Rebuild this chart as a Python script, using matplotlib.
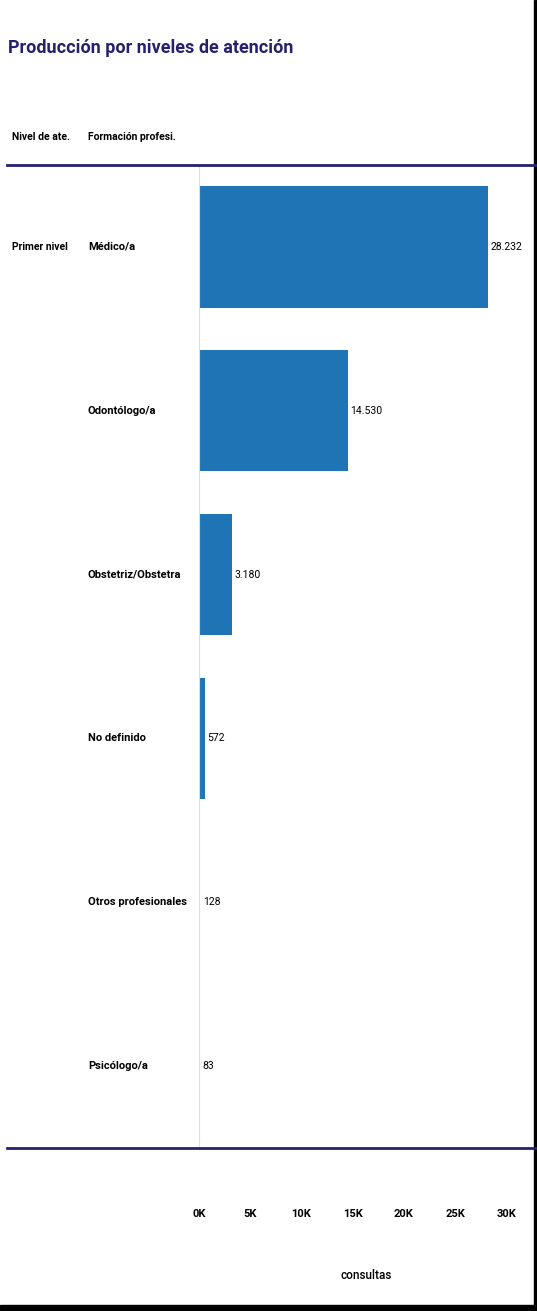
import matplotlib.pyplot as plt
from matplotlib.lines import Line2D
from matplotlib.patches import Rectangle
from matplotlib.ticker import FuncFormatter

plt.rcParams['font.family'] = ['Roboto', 'DejaVu Sans']

nivel = 'Primer nivel'
profesiones = ['Médico/a', 'Odontólogo/a', 'Obstetriz/Obstetra', 'No definido',
               'Otros profesionales', 'Psicólogo/a']
consultas = [28232, 14530, 3180, 572, 128, 83]
ticks = [0, 5000, 10000, 15000, 20000, 25000, 30000]

W, H = 537, 1311
navy = '#25216e'
azul = '#1f74b6'


def fx(px):
    return px / W


def fy(py):
    return 1 - py / H


def miles(v):
    return f'{v:,.0f}'.replace(',', '.')


fig = plt.figure(figsize=(W / 100, H / 100), dpi=100)

# zona de barras
ax = fig.add_axes([fx(199), fy(1148), fx(533) - fx(199), fy(165) - fy(1148)])
y = list(range(len(profesiones)))
ax.barh(y, consultas, height=0.74, color=azul)
ax.set_ylim(len(profesiones) - 0.5, -0.5)
ax.set_xlim(0, 32600)
ax.axvline(0, color='#dddddd', lw=0.8)
for s in ax.spines.values():
    s.set_visible(False)
ax.set_yticks([])
ax.set_xticks(ticks)
ax.xaxis.set_major_formatter(FuncFormatter(lambda v, p: f'{v / 1000:.0f}K'))
ax.tick_params(axis='x', length=0, labelsize=8, pad=44)
for lab in ax.get_xticklabels():
    lab.set_fontweight('bold')
ax.set_xlabel('consultas', fontsize=8.5, fontweight='medium', labelpad=36)

for yi, v in zip(y, consultas):
    ax.text(v + 250, yi, miles(v), va='center', ha='left', fontsize=7.5)

# columnas de texto a la izquierda
alto = fy(165) - fy(1148)
for yi, p in zip(y, profesiones):
    fig.text(fx(88), fy(165) - (yi + 0.5) / len(profesiones) * alto,
             p, va='center', ha='left', fontsize=8, fontweight='bold')
fig.text(fx(12), fy(165) - 0.5 / len(profesiones) * alto,
         nivel, va='center', ha='left', fontsize=7.5, fontweight='bold')

# títulos y encabezados
fig.text(fx(8), fy(48), 'Producción por niveles de atención', va='center',
         ha='left', fontsize=13, fontweight='bold', color=navy)
fig.text(fx(12), fy(137), 'Nivel de ate.', va='center', ha='left',
         fontsize=7.5, fontweight='bold')
fig.text(fx(88), fy(137), 'Formación profesi.', va='center', ha='left',
         fontsize=7.5, fontweight='bold')

# líneas de separación y marco
fig.add_artist(Line2D([fx(7), 1], [fy(165), fy(165)], color=navy, lw=2))
fig.add_artist(Line2D([fx(7), 1], [fy(1148), fy(1148)], color=navy, lw=2))
fig.add_artist(Rectangle((0, 0), 1, fy(1305), color='black'))
fig.add_artist(Rectangle((fx(534), 0), 1 - fx(534), 1, color='black'))

fig.savefig('out.png', dpi=100, facecolor='white')
